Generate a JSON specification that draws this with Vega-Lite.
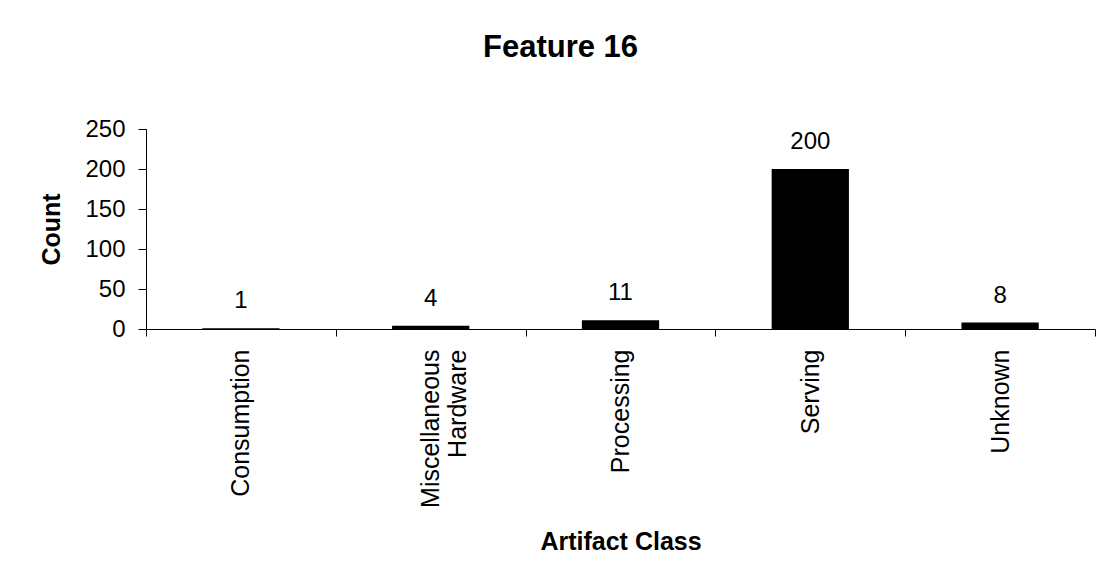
{
  "$schema": "https://vega.github.io/schema/vega-lite/v6.json",
  "width": 949,
  "height": 200,
  "autosize": "none",
  "padding": {"left": 146, "top": 129, "right": 8, "bottom": 252},
  "background": "white",
  "title": {"text": "Feature 16", "fontSize": 31, "font": "Liberation Sans", "fontWeight": "bold", "color": "black", "anchor": "middle", "frame": "group", "offset": 53, "dx": -60},
  "data": {"values": [
    {"cls": "Consumption", "count": 1},
    {"cls": "Miscellaneous Hardware", "count": 4},
    {"cls": "Processing", "count": 11},
    {"cls": "Serving", "count": 200},
    {"cls": "Unknown", "count": 8}
  ]},
  "config": {
    "view": {"stroke": null},
    "axis": {"domainColor": "black", "tickColor": "black", "labelColor": "black", "titleColor": "black", "labelFont": "Liberation Sans", "titleFont": "Liberation Sans", "grid": false, "domainWidth": 1, "tickWidth": 1}
  },
  "encoding": {
    "x": {"field": "cls", "type": "nominal", "sort": null, "scale": {"paddingInner": 0, "paddingOuter": 0},
      "axis": {"title": "Artifact Class", "titleFontSize": 25, "titleFontWeight": "bold", "labelAngle": -90, "labelAlign": "right", "labelBaseline": "middle", "labelFontSize": 25, "labelPadding": 13, "tickSize": 7, "tickBand": "extent", "labelLimit": 400, "titlePadding": 22,
        "labelExpr": "datum.label == 'Miscellaneous Hardware' ? ['Miscellaneous', 'Hardware'] : datum.label"}},
    "y": {"field": "count", "type": "quantitative", "scale": {"domain": [0, 250], "nice": false},
      "axis": {"values": [0, 50, 100, 150, 200, 250], "labelOverlap": false, "title": "Count", "titleFontSize": 25, "titleFontWeight": "bold", "labelFontSize": 24, "tickSize": 8, "labelPadding": 13, "titlePadding": 20}}
  },
  "layer": [
    {
      "mark": {"type": "bar", "color": "black", "width": {"band": 0.407}}
    },
    {
      "mark": {"type": "text", "fontSize": 24, "font": "Liberation Sans", "baseline": "alphabetic", "dy": -20, "color": "black"},
      "encoding": {
        "text": {"field": "count", "type": "quantitative"}
      }
    }
  ]
}
